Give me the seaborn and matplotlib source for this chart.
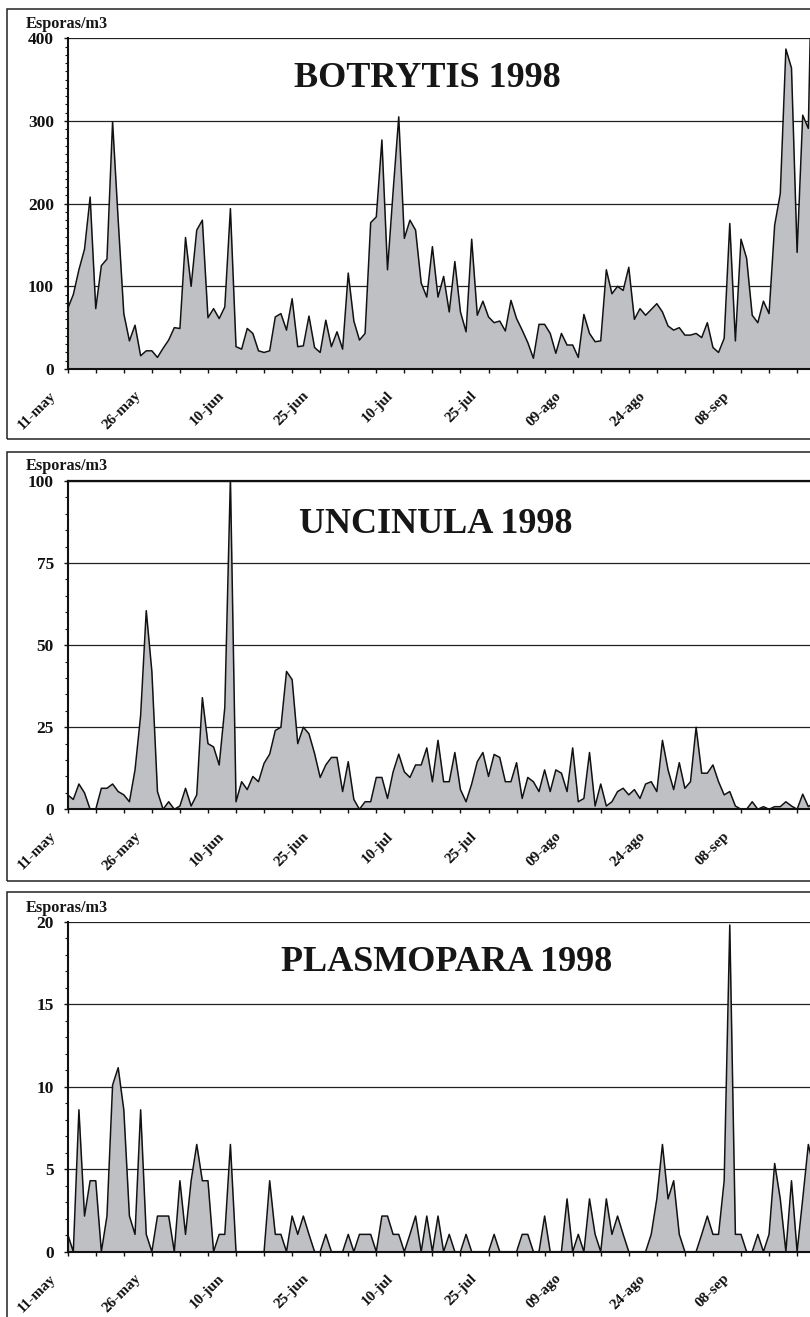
import numpy as np
import pandas as pd
import matplotlib
matplotlib.use("Agg")
import matplotlib.pyplot as plt
import matplotlib.transforms as mtransforms
from matplotlib.patches import Rectangle
from matplotlib.ticker import MultipleLocator, FixedLocator
import seaborn as sns

# ---------------- data (daily values from 11-may-1998) ----------------
botrytis = [73, 90, 120, 145, 208, 73, 125, 133, 299, 180,
            67, 34, 53, 16, 22, 22, 14, 25, 35, 50,
            49, 159, 100, 168, 180, 62, 73, 61, 75, 194,
            27, 24, 49, 43, 22, 20, 22, 63, 67, 47,
            85, 27, 28, 64, 26, 20, 59, 27, 45, 24,
            116, 58, 35, 43, 177, 184, 277, 120, 215, 305,
            158, 180, 168, 104, 87, 148, 87, 112, 69, 130,
            69, 45, 157, 65, 82, 63, 56, 58, 46, 83,
            61, 47, 32, 13, 54, 54, 43, 19, 43, 29,
            29, 14, 66, 43, 33, 34, 120, 91, 100, 95,
            123, 60, 73, 65, 72, 79, 69, 52, 47, 50,
            41, 41, 43, 38, 56, 26, 20, 37, 176, 34,
            157, 134, 65, 56, 82, 67, 174, 212, 387, 364,
            141, 307, 291, 620]

uncinula = [4.4, 3, 7.7, 5, 0, 0, 6.4, 6.4, 7.7, 5.4,
            4.4, 2.3, 12, 28.6, 60.5, 42, 5.4, 0, 2.3, 0,
            1, 6.4, 1, 4.4, 34, 20, 19, 13.5, 31, 101,
            2.3, 8.4, 6, 10, 8.4, 14, 16.8, 24, 25, 42,
            39.5, 20, 25, 23, 17, 9.7, 13.5, 15.8, 15.8, 5.4,
            14.5, 3, 0, 2.3, 2.3, 9.7, 9.7, 3.3, 11.4, 16.8,
            11.4, 9.7, 13.5, 13.5, 18.7, 8.4, 21, 8.4, 8.4, 17.3,
            6, 2.3, 7.7, 14.5, 17.3, 10, 16.7, 15.8, 8.4, 8.4,
            14.2, 3.3, 9.7, 8.4, 5.4, 12, 5.4, 12, 11, 5.4,
            18.7, 2.3, 3.3, 17.3, 1, 7.7, 1, 2.3, 5.4, 6.4,
            4.4, 6, 3.3, 7.7, 8.4, 5.4, 21, 12, 6, 14.2,
            6.4, 8.4, 25, 11, 11, 13.5, 8.4, 4.4, 5.4, 1,
            0, 0, 2.3, 0, 0.8, 0, 0.8, 0.8, 2.3, 1,
            0, 4.6, 0.8, 2]

plasmopara = [1.05, 0, 8.6, 2.16, 4.3, 4.3, 0, 2.16, 10.1, 11.15,
              8.6, 2.16, 1.05, 8.6, 1.05, 0, 2.16, 2.16, 2.16, 0,
              4.3, 1.05, 4.3, 6.5, 4.3, 4.3, 0, 1.05, 1.05, 6.5,
              0, 0, 0, 0, 0, 0, 4.3, 1.05, 1.05, 0,
              2.16, 1.05, 2.16, 1.05, 0, 0, 1.05, 0, 0, 0,
              1.05, 0, 1.05, 1.05, 1.05, 0, 2.16, 2.16, 1.05, 1.05,
              0, 1.05, 2.16, 0, 2.16, 0, 2.16, 0, 1.05, 0,
              0, 1.05, 0, 0, 0, 0, 1.05, 0, 0, 0,
              0, 1.05, 1.05, 0, 0, 2.16, 0, 0, 0, 3.2,
              0, 1.05, 0, 3.2, 1.05, 0, 3.2, 1.05, 2.16, 1.05,
              0, 0, 0, 0, 1.05, 3.2, 6.5, 3.2, 4.3, 1.05,
              0, 0, 0, 1.05, 2.16, 1.05, 1.05, 4.3, 19.8, 1.05,
              1.05, 0, 0, 1.05, 0, 1.05, 5.35, 3.2, 0, 4.3,
              0, 3.2, 6.5, 5]

tick_labels = ["11-may", "26-may", "10-jun", "25-jun", "10-jul",
               "25-jul", "09-ago", "24-ago", "08-sep"]

titles = ["BOTRYTIS 1998", "UNCINULA 1998", "PLASMOPARA 1998"]
ylims = [400, 100, 20]
ymajor = [100, 25, 5]
yminor = [10, 5, 1]
ylabel = "Esporas/m3"

# ---------------- styling ----------------
sns.set_theme(style="white")
plt.rcParams["font.family"] = ["Liberation Serif", "DejaVu Serif"]
plt.rcParams["font.weight"] = "bold"

W, H = 810, 1317
fig = plt.figure(figsize=(W / 100, H / 100), dpi=100)
fig.patch.set_facecolor("white")

px_day = (741 - 67.7) / 120.0
ndays = len(botrytis) - 1
left_px = 67.7
# (top_px, bottom_px) of each plot area; frame (top, bottom)
areas = [(38.3, 369.0), (481.0, 809.3), (921.7, 1251.7)]
frames = [(9.0, 439.3), (451.7, 880.7), (891.7, 1340.0)]
title_pos = [(427.7, 86.7), (435.5, 532.7), (446.7, 971.0)]
ylab_base = [27.7, 470.0, 911.7]

series = [botrytis, uncinula, plasmopara]
fill_col = "#bfc0c4"

for i in range(3):
    top, bot = areas[i]
    ax = fig.add_axes([left_px / W, 1 - bot / H, ndays * px_day / W, (bot - top) / H])
    ax.set_facecolor("white")
    df = pd.DataFrame({"day": np.arange(len(series[i])), "val": series[i]})
    ax.fill_between(df["day"], 0, df["val"], color=fill_col, lw=0, zorder=2)
    sns.lineplot(data=df, x="day", y="val", ax=ax, color="#111111", lw=1.1, zorder=3)
    ax.set_xlim(0, ndays)
    ax.set_ylim(0, ylims[i])
    ax.set_xlabel("")
    ax.set_ylabel("")

    # y axis
    ax.yaxis.set_major_locator(MultipleLocator(ymajor[i]))
    ax.yaxis.set_minor_locator(MultipleLocator(yminor[i]))
    ax.tick_params(axis="y", which="major", direction="out", length=3, width=1,
                   pad=7, labelsize=12.5, left=True, colors="#111111")
    ax.tick_params(axis="y", which="minor", direction="out", length=2, width=0.8,
                   left=True, colors="#111111")
    for lab in ax.get_yticklabels():
        lab.set_fontweight("bold")
    ax.grid(axis="y", which="major", color="#222222", lw=0.9, zorder=1)
    ax.set_axisbelow(True)

    # x axis
    xt = list(range(0, ndays + 1, 5))
    ax.xaxis.set_major_locator(FixedLocator(xt))
    labs = []
    k = 0
    for d in xt:
        if d % 15 == 0 and k < len(tick_labels):
            labs.append(tick_labels[k]); k += 1
        else:
            labs.append("")
    ax.set_xticklabels(labs, rotation=45, ha="right", va="top",
                       rotation_mode="anchor", fontsize=11, fontweight="bold")
    ax.tick_params(axis="x", which="major", direction="out", length=3, width=1,
                   pad=11.5, bottom=True, colors="#111111")
    off = mtransforms.ScaledTranslation(-13 / 72, 0, fig.dpi_scale_trans)
    for lab in ax.get_xticklabels():
        lab.set_transform(lab.get_transform() + off)

    for s in ["top", "right"]:
        ax.spines[s].set_visible(False)
    for s in ["left", "bottom"]:
        ax.spines[s].set_visible(True)
        ax.spines[s].set_color("#111111")
        ax.spines[s].set_linewidth(1.5)
        ax.spines[s].set_zorder(4)
    if i == 1:
        ax.spines["top"].set_visible(True)
        ax.spines["top"].set_color("#111111")
        ax.spines["top"].set_linewidth(1.6)

    # title and unit label
    tx, ty = title_pos[i]
    fig.text(tx / W, 1 - ty / H, titles[i], ha="center", va="baseline",
             fontsize=26, fontweight="bold", color="#161616")
    fig.text(26 / W, 1 - ylab_base[i] / H, ylabel, ha="left", va="baseline",
             fontsize=11.7, fontweight="bold", color="#161616")

    # outer frame
    ft, fb = frames[i]
    fig.patches.append(Rectangle((7.3 / W, 1 - fb / H), 1.2, (fb - ft) / H,
                                 transform=fig.transFigure, fill=False,
                                 edgecolor="#222222", lw=1.1))

fig.savefig("out.png", dpi=100)
